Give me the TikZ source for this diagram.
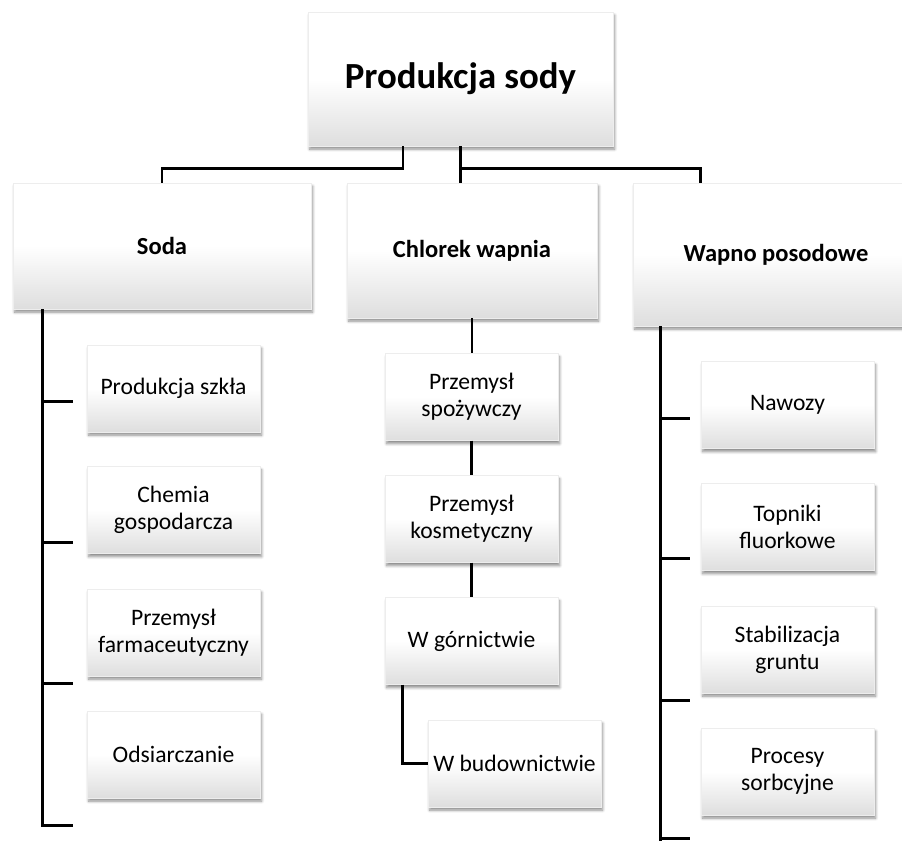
\documentclass[tikz,border=0pt]{standalone}
\usepackage{fontspec}
\setmainfont{Carlito}
\usetikzlibrary{calc,shadows,shadows.blur}
\begin{document}
\begin{tikzpicture}[x=0.75pt,y=-0.75pt,
  base/.style={inner sep=0pt, align=center, top color=white, bottom color=black!13, middle color=white,
    draw=black!7, line width=0.3pt,
    blur shadow={shadow xshift=1.2pt, shadow yshift=-2.4pt, shadow blur steps=6, shadow blur radius=2pt, shadow opacity=45}},
  titlebox/.style={base, font=\fontsize{27.6}{33}\selectfont\bfseries, minimum width=228.75pt, minimum height=100.5pt},
  headbox/.style={base, font=\fontsize{18.4}{22}\selectfont\bfseries},
  leaf/.style={base, font=\fontsize{17.7}{20.25}\selectfont, minimum width=129.75pt, minimum height=65.25pt},
  conn/.style={draw=black, line width=2.1pt}
]
\useasboundingbox (0,0) rectangle (902,841);
\clip (0,0) rectangle (902,841);

% top level
\node[titlebox] (top) at (460.5,79) {Produkcja sody};
\node[headbox, minimum width=223.5pt, minimum height=94.5pt] (soda) at (162,246) {Soda};
\node[headbox, minimum width=187.5pt, minimum height=101.25pt] (chl) at (472,250.5) {Chlorek wapnia};
\node[headbox, minimum width=214.5pt, minimum height=107.25pt] (wap) at (776,254.5) {Wapno posodowe};

% Soda leaves
\node[leaf] (s1) at (173.5,388.5) {Produkcja szkła};
\node[leaf] (s2) at (173.5,510) {Chemia\\gospodarcza};
\node[leaf] (s3) at (173.5,632.5) {Przemysł\\farmaceutyczny};
\node[leaf] (s4) at (173.5,754.5) {Odsiarczanie};

% Chlorek leaves
\node[leaf] (c1) at (471.5,397) {Przemysł\\spożywczy};
\node[leaf] (c2) at (471.5,519) {Przemysł\\kosmetyczny};
\node[leaf] (c3) at (471.5,641) {W górnictwie};
\node[leaf] (c4) at (514.5,763.5) {W budownictwie};

% Wapno leaves
\node[leaf] (w1) at (787.5,405) {Nawozy};
\node[leaf] (w2) at (787.5,527) {Topniki\\fluorkowe};
\node[leaf] (w3) at (787.5,649.5) {Stabilizacja\\gruntu};
\node[leaf] (w4) at (787.5,771.5) {Procesy\\sorbcyjne};

% connectors from top
\draw[conn] ($(top.south)+(-57.5,0)$) -- ++(0,22) -| (soda.north);
\draw[conn] (top.south) -- (top.south |- chl.north);
\draw[conn] (top.south) ++(0,22) -| ($(wap.north west)+(68,0)$);

% Soda spine
\coordinate (sp) at ($(soda.south west)+(30,0)$);
\coordinate (st1) at ($(s1.south west)+(-14,-31)$);
\coordinate (st2) at ($(s2.south west)+(-14,-11)$);
\coordinate (st3) at ($(s3.south west)+(-14,7)$);
\coordinate (st4) at ($(s4.south west)+(-14,27)$);
\draw[conn] (sp) |- (st4);
\foreach \i in {1,2,3} \draw[conn] (st\i) -- (sp |- st\i);

% Chlorek chain
\draw[conn] (chl.south) -- (chl.south |- c1.north);
\draw[conn] (c1.south) -- (c1.south |- c2.north);
\draw[conn] (c2.south) -- (c2.south |- c3.north);
\draw[conn] ($(c3.south west)+(18,0)$) |- (c4.west);

% Wapno spine
\coordinate (wp) at ($(wap.south west)+(28,0)$);
\coordinate (wt1) at ($(w1.south west)+(-11,-30)$);
\coordinate (wt2) at ($(w2.south west)+(-11,-12)$);
\coordinate (wt3) at ($(w3.south west)+(-11,7)$);
\coordinate (wt4) at ($(w4.south west)+(-11,23)$);
\draw[conn] (wp) -- ($(wp |- wt4)+(0,8)$);
\foreach \i in {1,2,3,4} \draw[conn] (wt\i) -- (wp |- wt\i);
\end{tikzpicture}
\end{document}
